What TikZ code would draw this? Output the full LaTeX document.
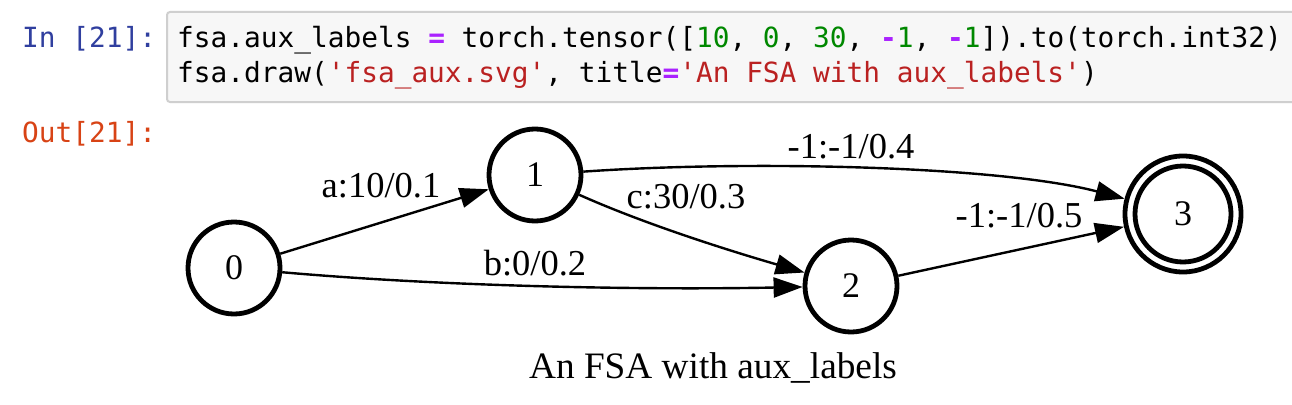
\documentclass[tikz,border=0pt]{standalone}
\usepackage{fontspec}
\setmainfont{Liberation Serif}
\newfontfamily\codefont{DejaVu Sans Mono}
\usetikzlibrary{arrows.meta}
\definecolor{promptin}{HTML}{303F9F}
\definecolor{promptout}{HTML}{D84315}
\definecolor{cnum}{HTML}{008800}
\definecolor{cstr}{HTML}{BA2121}
\definecolor{cop}{HTML}{AA22FF}
\definecolor{cellbg}{HTML}{F7F7F7}
\definecolor{cellborder}{HTML}{CFCFCF}
\newcommand{\op}[1]{\textcolor{cop}{\bfseries #1}}
\newcommand{\num}[1]{\textcolor{cnum}{#1}}
\newcommand{\str}[1]{\textcolor{cstr}{#1}}
\newcommand{\q}{\textquotesingle}
\tikzset{
  code/.style={anchor=base west, inner sep=0pt, font=\codefont\fontsize{27.8}{34}\selectfont},
  state/.style={circle, draw, line width=4.8pt, minimum size=92pt, inner sep=0pt, font=\fontsize{36}{40}\selectfont},
  elabel/.style={anchor=base, inner sep=0pt, font=\fontsize{36.5}{40}\selectfont},
  edge/.style={line width=2.4pt, -{Triangle[length=29pt,width=20pt]}},
}
\begin{document}
\begin{tikzpicture}[x=1pt,y=-1pt]
\path[use as bounding box, fill=white] (0,0) rectangle (1292,404);
\begin{scope}
\clip (0,0) rectangle (1292,404);
\draw[fill=cellbg, draw=cellborder, line width=2pt, rounded corners=3pt] (167,12) rectangle (1310,102);
\end{scope}
\node[code, text=promptin] (inp) at (22,48) {In [21]:};
\node[code] (l1) at (177,48) {fsa.aux\_labels \op{=} torch.tensor([\num{10}, \num{0}, \num{30}, \op{-}\num{1}, \op{-}\num{1}]).to(torch.int32)};
\node[code] (l2) at (177,82) {fsa.draw(\str{\q fsa\_aux.svg\q}, title\op{=}\str{\q An FSA with aux\_labels\q})};
\node[code, text=promptout] (outp) at (22,142) {Out[21]:};

\node[state] (n0) at (234,268) {0};
\node[state] (n1) at (535,175) {1};
\node[state] (n2) at (851,286) {2};
\node[state, minimum size=116pt] (n3) at (1183,214) {3};
\draw[line width=4.8pt] (n3.center) circle[radius=48pt];

\draw[edge] (n0) -- (n1);
\draw[edge] (n0) .. controls (450,287) and (650,290) .. (n2);
\draw[edge] (n1) .. controls (640,222) and (720,248) .. (n2);
\draw[edge] (n1) .. controls (750,160) and (1000,166) .. (n3);
\draw[edge] (n2) -- (n3);

\node[elabel] (la) at (381,197) {a:10/0.1};
\node[elabel] (lb) at (535,275) {b:0/0.2};
\node[elabel] (lc) at (686,208) {c:30/0.3};
\node[elabel] (ld) at (851,158) {-1:-1/0.4};
\node[elabel] (le) at (1019,227) {-1:-1/0.5};
\node[elabel, font=\fontsize{37.3}{40}\selectfont] (title) at (713,378) {An FSA with aux\_labels};
\end{tikzpicture}
\end{document}
